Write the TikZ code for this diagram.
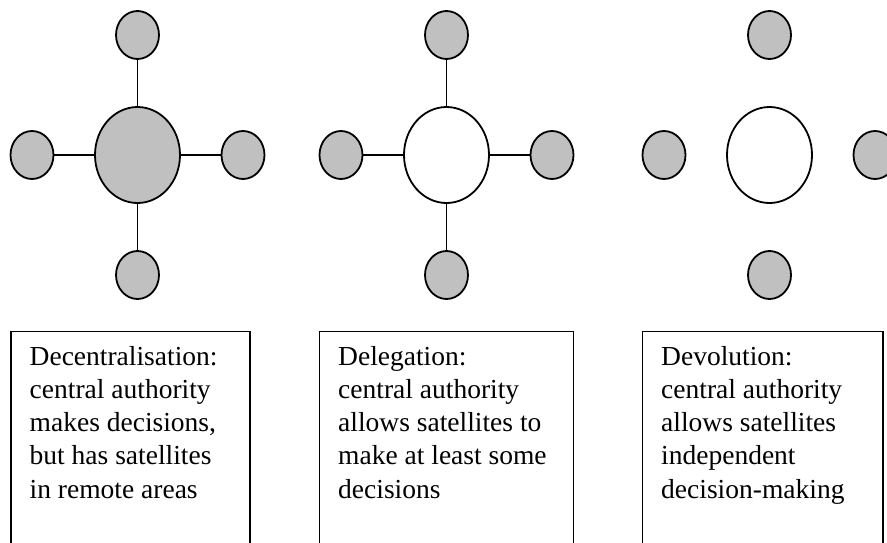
\documentclass[tikz,border=0pt]{standalone}
\usepackage{fontspec}
\setmainfont{Liberation Serif}
\usetikzlibrary{shapes.geometric}
\begin{document}
\begin{tikzpicture}[x=1pt,y=-1pt,
  sat/.style={ellipse,draw,line width=1.8pt,fill=satgray,minimum width=43pt,minimum height=48pt,inner sep=0pt},
  hub/.style={ellipse,draw,line width=1.8pt,minimum width=85pt,minimum height=96pt,inner sep=0pt},
  link/.style={line width=1.8pt},
  box/.style={line width=1.2pt},
  label/.style={anchor=base west,inner sep=0pt,align=left,font=\fontsize{27.5}{33.2}\selectfont}]
\definecolor{satgray}{HTML}{C0C0C0}
\useasboundingbox (0,0) rectangle (887,542);
\begin{scope}
\clip (0,0) rectangle (887,542);
% group 1
\node[hub,fill=satgray] (c1) at (137.5,155) {};
\node[sat] (t1) at (137.5,35) {};
\node[sat] (b1) at (137.5,275) {};
\node[sat] (l1) at (32,155) {};
\node[sat] (r1) at (243,155) {};
\draw[link] (c1) -- (t1);
\draw[link] (c1) -- (b1);
\draw[link] (c1) -- (l1);
\draw[link] (c1) -- (r1);
% group 2
\node[hub,fill=white] (c2) at (446.5,155) {};
\node[sat] (t2) at (446.5,35) {};
\node[sat] (b2) at (446.5,275) {};
\node[sat] (l2) at (341,155) {};
\node[sat] (r2) at (552,155) {};
\draw[link] (c2) -- (t2);
\draw[link] (c2) -- (b2);
\draw[link] (c2) -- (l2);
\draw[link] (c2) -- (r2);
% group 3
\node[hub,fill=white] (c3) at (769.5,155) {};
\node[sat] (t3) at (769.5,35) {};
\node[sat] (b3) at (769.5,275) {};
\node[sat] (l3) at (664,155) {};
\node[sat] (r3) at (875,155) {};
% boxes
\draw[box] (11,560) -- (11,331.5) -- (250,331.5) -- (250,560);
\draw[box] (319.5,560) -- (319.5,331.5) -- (573.5,331.5) -- (573.5,560);
\draw[box] (642.5,560) -- (642.5,331.5) -- (883,331.5) -- (883,560);
\end{scope}
\node[label] (d1) at (29.5,498) {Decentralisation:\\central authority\\makes decisions,\\but has satellites\\in remote areas};
\node[label] (d2) at (338,498) {Delegation:\\central authority\\allows satellites to\\make at least some\\decisions};
\node[label] (d3) at (661,498) {Devolution:\\central authority\\allows satellites\\independent\\decision-making};
\end{tikzpicture}
\end{document}
